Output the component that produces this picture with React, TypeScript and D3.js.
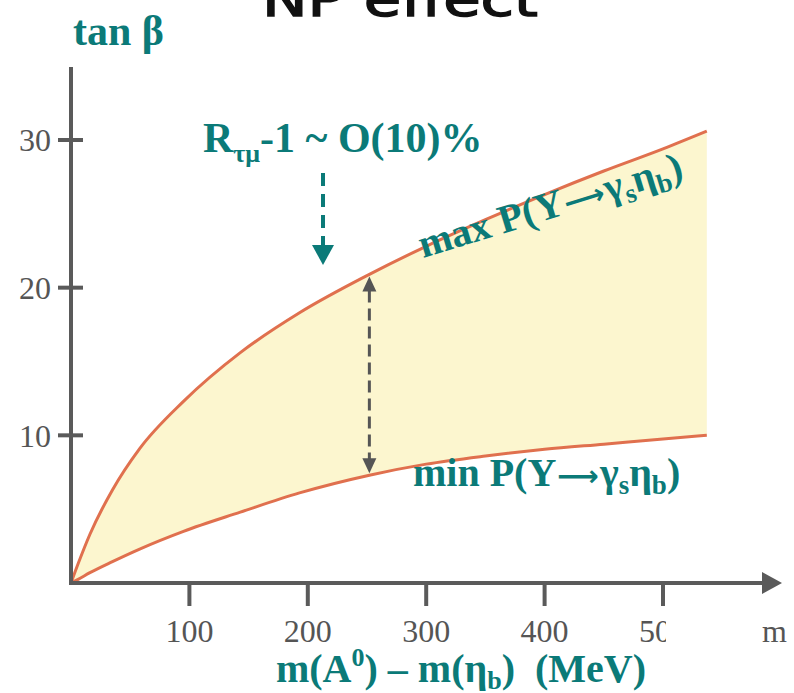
import React from "react";
import * as d3 from "d3";

// Mass difference m(A0) - m(eta_b) in MeV, sampled along the band
const deltaM = [0, 6, 16, 35, 58, 95, 143, 193, 252, 300, 350, 400, 450, 500, 537];
// tan(beta) on the upper edge: max P(Upsilon -> gamma_s eta_b)
const tanBetaMax = [0, 1.3, 3.3, 6.3, 9.1, 12.3, 15.6, 18.3, 20.9, 22.8, 24.6, 26.3, 27.9, 29.4, 30.6];
// tan(beta) on the lower edge: min P(Upsilon -> gamma_s eta_b)
const tanBetaMin = [0, 0.25, 0.7, 1.45, 2.3, 3.5, 4.8, 6.1, 7.3, 8.05, 8.6, 9.05, 9.4, 9.75, 10.0];

const xTicks = [100, 200, 300, 400, 500];
const yTicks = [10, 20, 30];

// Index of the sample where the band-width arrow is drawn
const spanIndex = 8;
// Mass difference of the R_tau_mu marker
const markerDeltaM = 212;

const W = 794;
const H = 693;
const TEAL = "#0b7a78";
const AXIS = "#5a5a5a";
const SERIF = "'Liberation Serif', 'Times New Roman', serif";

type Row = { d: number; hi: number; lo: number };

function Decay({ prefix }: { prefix: string }) {
  return (
    <>
      {prefix} P(Υ
      <tspan fontFamily="'DejaVu Sans', sans-serif" fontSize={29} fontWeight="bold" dx={1}>
        ⟶
      </tspan>
      <tspan dx={1}>γ</tspan>
      <tspan fontSize={27} dy={8}>s</tspan>
      <tspan dy={-8}>η</tspan>
      <tspan fontSize={27} dy={8}>b</tspan>
      <tspan dy={-8}>)</tspan>
    </>
  );
}

export default function App() {
  const x = d3.scaleLinear().domain([0, 500]).range([71, 663]);
  const y = d3.scaleLinear().domain([0, 30]).range([583, 140]);

  const rows: Row[] = deltaM.map((d, i) => ({ d, hi: tanBetaMax[i], lo: tanBetaMin[i] }));
  const curve = d3.curveMonotoneX;
  const band = d3
    .area<Row>()
    .x((r) => x(r.d))
    .y0((r) => y(r.lo))
    .y1((r) => y(r.hi))
    .curve(curve)(rows)!;
  const upper = d3
    .line<Row>()
    .x((r) => x(r.d))
    .y((r) => y(r.hi))
    .curve(curve)(rows)!;
  const lower = d3
    .line<Row>()
    .x((r) => x(r.d))
    .y((r) => y(r.lo))
    .curve(curve)(rows)!;

  const x0 = x(0);
  const y0 = y(0);
  const axisEnd = 782;

  const spanX = x(deltaM[spanIndex]);
  const spanTop = y(tanBetaMax[spanIndex]) + 2;
  const spanBot = y(tanBetaMin[spanIndex]) - 2;

  const mx = x(markerDeltaM);

  return (
    <svg
      width={W}
      height={H}
      viewBox={`0 0 ${W} ${H}`}
      style={{ position: "absolute", left: 0, top: 0, background: "#fff" }}
    >
      <defs>
        <clipPath id="tick500">
          <rect x={0} y={0} width={666} height={H} />
        </clipPath>
      </defs>

      {/* title, running off the top edge */}
      <text
        x={262}
        y={16}
        fontFamily="'DejaVu Sans', sans-serif"
        fontSize={48}
        textLength={276}
        lengthAdjust="spacingAndGlyphs"
        fill="#111"
        stroke="#111"
        strokeWidth={1.4}
      >
        NP effect
      </text>

      {/* band */}
      <path d={band} fill="#fcf6cf" stroke="none" />
      <path d={upper} fill="none" stroke="#e0704e" strokeWidth={3} />
      <path d={lower} fill="none" stroke="#e0704e" strokeWidth={3} />

      {/* y axis */}
      <line x1={x0} y1={67} x2={x0} y2={y0 + 2} stroke={AXIS} strokeWidth={4} />
      {yTicks.map((t) => (
        <g key={t}>
          <line x1={x0 - 13} x2={x0 + 12} y1={y(t)} y2={y(t)} stroke={AXIS} strokeWidth={4} />
          <text
            x={x0 - 20}
            y={y(t)}
            dy="0.35em"
            textAnchor="end"
            fontFamily={SERIF}
            fontSize={32}
            fill="#555"
          >
            {t}
          </text>
        </g>
      ))}

      {/* x axis with arrow head */}
      <line x1={x0 - 2} y1={y0} x2={axisEnd - 16} y2={y0} stroke={AXIS} strokeWidth={4} />
      <path
        d={`M${axisEnd - 20},${y0 - 11} L${axisEnd},${y0} L${axisEnd - 20},${y0 + 11} Z`}
        fill={AXIS}
      />
      {xTicks.map((t) => (
        <g key={t} clipPath={t === 500 ? "url(#tick500)" : undefined}>
          <line x1={x(t)} x2={x(t)} y1={y0} y2={y0 + 23} stroke={AXIS} strokeWidth={4} />
          <text
            x={x(t)}
            y={642}
            textAnchor="middle"
            fontFamily={SERIF}
            fontSize={32}
            fill="#555"
          >
            {t}
          </text>
        </g>
      ))}
      <text x={762} y={642} fontFamily={SERIF} fontSize={32} fill="#555">
        m (
      </text>

      {/* axis titles */}
      <text x={73} y={45} fontFamily={SERIF} fontSize={42} fontWeight="bold" fill={TEAL}>
        tan β
      </text>
      <text
        x={461}
        y={682}
        textAnchor="middle"
        fontFamily={SERIF}
        fontSize={40}
        fontWeight="bold"
        fill={TEAL}
        style={{ whiteSpace: "pre" }}
      >
        m(A
        <tspan fontSize={26} dy={-16}>0</tspan>
        <tspan dy={16}>) – m(η</tspan>
        <tspan fontSize={26} dy={7}>b</tspan>
        <tspan dy={-7}>{")  (MeV)"}</tspan>
      </text>

      {/* R_tau_mu annotation with dashed pointer */}
      <text x={203} y={152} fontFamily={SERIF} fontSize={42} fontWeight="bold" fill={TEAL}>
        R
        <tspan fontSize={26} dy={10}>τμ</tspan>
        <tspan dy={-10}>-1 ~ O(10)%</tspan>
      </text>
      <line
        x1={mx + 1}
        x2={mx + 1}
        y1={173}
        y2={245}
        stroke={TEAL}
        strokeWidth={4}
        strokeDasharray="13 8"
      />
      <path
        d={`M${mx - 10},245 L${mx + 12},245 L${mx + 1},265 Z`}
        fill={TEAL}
      />

      {/* band width double arrow */}
      <line
        x1={spanX}
        x2={spanX}
        y1={spanTop + 14}
        y2={spanBot - 14}
        stroke="#555"
        strokeWidth={3}
        strokeDasharray="12 6"
      />
      <path
        d={`M${spanX - 7},${spanTop + 15} L${spanX},${spanTop} L${spanX + 7},${spanTop + 15} Z`}
        fill="#555"
      />
      <path
        d={`M${spanX - 7},${spanBot - 15} L${spanX},${spanBot} L${spanX + 7},${spanBot - 15} Z`}
        fill="#555"
      />

      {/* edge labels */}
      <text
        transform="translate(423,258) rotate(-17)"
        fontFamily={SERIF}
        fontSize={40}
        fontWeight="bold"
        fill={TEAL}
      >
        <Decay prefix="max" />
      </text>
      <text x={413} y={486} fontFamily={SERIF} fontSize={40} fontWeight="bold" fill={TEAL}>
        <Decay prefix="min" />
      </text>
    </svg>
  );
}
